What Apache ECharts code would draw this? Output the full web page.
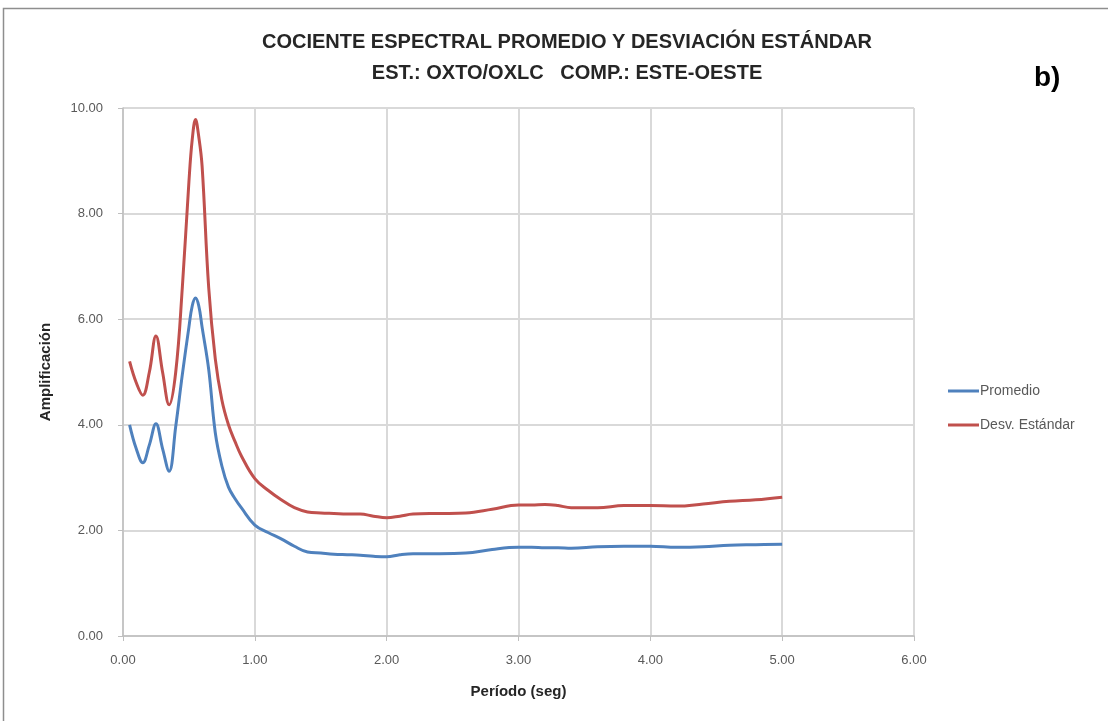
<!DOCTYPE html>
<html>
<head>
<meta charset="utf-8">
<title>Cociente espectral promedio y desviación estándar</title>
<script src="https://cdn.jsdelivr.net/npm/echarts@6/dist/echarts.min.js"></script>
<style>
    html, body { margin: 0; padding: 0; background: #fff; }
    #chart { width: 1108px; height: 721px; }
</style>
</head>
<body>
<div id="chart"></div>
<script>
// Period (seg) samples
const periodos = [
    0.05, 0.10, 0.15, 0.20, 0.25, 0.30, 0.35, 0.40, 0.45, 0.50,
    0.525, 0.55, 0.575, 0.60, 0.65, 0.70, 0.75, 0.80, 0.85, 0.90,
    1.00, 1.10, 1.20, 1.30, 1.40, 1.50, 1.60, 1.70, 1.80, 1.90,
    2.00, 2.10, 2.20, 2.40, 2.60, 2.80, 3.00, 3.10, 3.20, 3.30,
    3.40, 3.60, 3.80, 4.00, 4.20, 4.40, 4.60, 4.80, 5.00
];

// Promedio (blue)
const promedio = [
    4.00, 3.55, 3.28, 3.62, 4.02, 3.55, 3.12, 3.97, 4.95, 5.85,
    6.25, 6.40, 6.25, 5.85, 5.05, 3.85, 3.22, 2.82, 2.60, 2.42,
    2.10, 1.96, 1.84, 1.70, 1.59, 1.57, 1.55, 1.54, 1.53, 1.51,
    1.50, 1.54, 1.56, 1.56, 1.57, 1.64, 1.68, 1.68, 1.67, 1.67,
    1.66, 1.69, 1.70, 1.70, 1.68, 1.69, 1.72, 1.73, 1.74
];

// Desv. Estándar (red)
const desvEstandar = [
    5.20, 4.80, 4.56, 5.00, 5.68, 5.00, 4.38, 5.00, 6.60, 8.60,
    9.40, 9.78, 9.45, 8.90, 6.60, 5.25, 4.47, 4.00, 3.68, 3.40,
    2.98, 2.76, 2.58, 2.43, 2.35, 2.33, 2.32, 2.31, 2.31, 2.27,
    2.24, 2.27, 2.31, 2.32, 2.33, 2.40, 2.48, 2.48, 2.49, 2.47,
    2.43, 2.43, 2.47, 2.47, 2.46, 2.50, 2.55, 2.58, 2.63
];

const seriesNames = ['Promedio', 'Desv. Estándar'];
const titleLines = [
    'COCIENTE ESPECTRAL PROMEDIO Y DESVIACIÓN ESTÁNDAR',
    'EST.: OXTO/OXLC   COMP.: ESTE-OESTE'
];

const pairUp = (xs, ys) => xs.map((x, i) => [x, ys[i]]);

const chart = echarts.init(document.getElementById('chart'), null, { renderer: 'canvas' });

const gridColor = '#d9d9d9';
const labelColor = '#595959';
const fontFamily = '"Liberation Sans", Arial, sans-serif';

chart.setOption({
    backgroundColor: '#ffffff',
    animation: false,
    title: {
        text: titleLines.join('\n'),
        left: 562,
        top: 22,
        textAlign: 'center',
        textStyle: {
            fontFamily: fontFamily,
            fontSize: 20,
            fontWeight: 'bold',
            color: '#262626',
            lineHeight: 31
        }
    },
    graphic: [
        {
            type: 'rect',
            shape: { x: 3.5, y: 8.5, width: 1200, height: 800 },
            style: { fill: 'none', stroke: '#8e8e8e', lineWidth: 1.5 },
            silent: true
        },
        {
            type: 'text',
            left: 1034,
            top: 64,
            style: {
                text: 'b)',
                fontFamily: fontFamily,
                fontSize: 28,
                fontWeight: 'bold',
                fill: '#000'
            }
        }
    ],
    legend: {
        orient: 'vertical',
        left: 943,
        top: 379,
        itemWidth: 31,
        itemHeight: 3,
        itemGap: 20,
        icon: 'rect',
        textStyle: { fontFamily: fontFamily, fontSize: 14, color: labelColor, padding: [0, 0, 0, -4] },
        data: seriesNames
    },
    grid: {
        left: 123,
        right: 194,
        top: 108,
        bottom: 85,
        containLabel: false
    },
    xAxis: {
        type: 'value',
        min: 0,
        max: 6,
        interval: 1,
        name: 'Período (seg)',
        nameLocation: 'middle',
        nameGap: 48,
        nameTextStyle: { fontFamily: fontFamily, fontSize: 15, fontWeight: 'bold', color: '#262626' },
        axisLine: { show: true, lineStyle: { color: '#bfbfbf', width: 1.5 } },
        axisTick: { show: true, inside: false, length: 5, lineStyle: { color: '#bfbfbf' } },
        axisLabel: {
            fontFamily: fontFamily,
            fontSize: 13,
            color: labelColor,
            margin: 18,
            formatter: v => v.toFixed(2)
        },
        splitLine: { show: true, lineStyle: { color: gridColor, width: 2 } }
    },
    yAxis: {
        type: 'value',
        min: 0,
        max: 10,
        interval: 2,
        name: 'Amplificación',
        nameLocation: 'middle',
        nameGap: 70,
        nameTextStyle: { fontFamily: fontFamily, fontSize: 15, fontWeight: 'bold', color: '#262626' },
        axisLine: { show: true, lineStyle: { color: '#bfbfbf', width: 1.5 } },
        axisTick: { show: true, inside: false, length: 5, lineStyle: { color: '#bfbfbf' } },
        axisLabel: {
            fontFamily: fontFamily,
            fontSize: 13,
            color: labelColor,
            margin: 20,
            formatter: v => v.toFixed(2)
        },
        splitLine: { show: true, lineStyle: { color: gridColor, width: 2 } }
    },
    series: [
        {
            name: seriesNames[0],
            type: 'line',
            data: pairUp(periodos, promedio),
            smooth: 0.4,
            showSymbol: false,
            lineStyle: { color: '#4f81bd', width: 3 },
            itemStyle: { color: '#4f81bd' },
            z: 3
        },
        {
            name: seriesNames[1],
            type: 'line',
            data: pairUp(periodos, desvEstandar),
            smooth: 0.4,
            showSymbol: false,
            lineStyle: { color: '#c0504d', width: 3 },
            itemStyle: { color: '#c0504d' },
            z: 2
        }
    ]
});
</script>
</body>
</html>
